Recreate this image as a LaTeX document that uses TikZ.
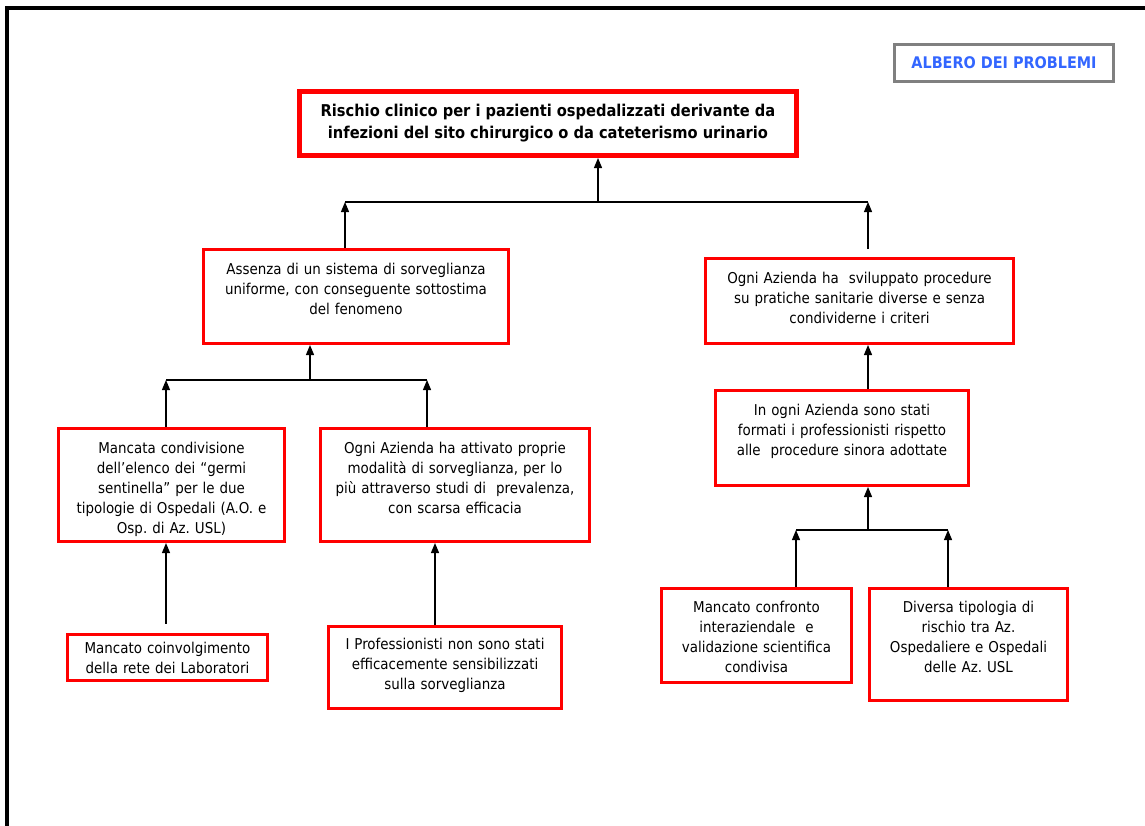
\documentclass[tikz,border=0pt]{standalone}
\usepackage{fontspec}
\setmainfont{DejaVu Sans Condensed}
\usetikzlibrary{arrows.meta}

\definecolor{boxred}{RGB}{255,0,0}
\definecolor{tagblue}{RGB}{51,102,255}
\definecolor{taggray}{RGB}{128,128,128}

\tikzset{
  probbox/.style={draw=boxred, line width=2.25pt, fill=white, align=center,
    inner xsep=0pt, inner ysep=10.8pt, text height=8pt, anchor=north west,
    font=\fontsize{11.2}{15}\selectfont},
  mainbox/.style={draw=boxred, line width=3.75pt, fill=white, align=center,
    anchor=north west, font=\bfseries\fontsize{12.2}{16.5}\selectfont},
  tagbox/.style={draw=taggray, line width=2.25pt, fill=white, text=tagblue,
    anchor=north west, font=\bfseries\fontsize{12}{14}\selectfont},
  link/.style={black, line width=0.9pt},
}

\begin{document}
\begin{tikzpicture}[x=0.75pt, y=-0.75pt, >={Triangle[length=7.5pt,width=6pt]}]
  \useasboundingbox (0,0) rectangle (1145,825);
  \clip (0,0) rectangle (1145,825);

  % Page frame
  \draw[line width=3pt] (7,840) -- (7,8) -- (1160,8);

  % Tag
  \node[tagbox, minimum width=164.25pt, minimum height=27.75pt] (tag) at (893,43) {ALBERO DEI PROBLEMI};

  % Main problem
  \node[mainbox, minimum width=372.75pt, minimum height=48pt] (rischio) at (297,89)
    {Rischio clinico per i pazienti ospedalizzati derivante da\\infezioni del sito chirurgico o da cateterismo urinario};

  % Level 1
  \node[probbox, text width=228.75pt, text depth=40.9pt] (assenza) at (202,248)
    {Assenza di un sistema di sorveglianza\\uniforme, con conseguente sottostima\\del fenomeno};
  \node[probbox, text width=231pt, text depth=34.15pt] (sviluppo) at (704,257)
    {Ogni Azienda ha\ \ sviluppato procedure\\su pratiche sanitarie diverse e senza\\condividerne i criteri};

  % Level 2
  \node[probbox, text width=169.5pt, text depth=55.15pt] (germi) at (57,427)
    {Mancata condivisione\\dell’elenco dei “germi\\sentinella” per le due\\tipologie di Ospedali (A.O. e\\Osp.\ di Az.\ USL)};
  \node[probbox, text width=201.75pt, text depth=55.15pt] (attivato) at (319,427)
    {Ogni Azienda ha attivato proprie\\modalità di sorveglianza, per lo\\più attraverso studi di\ \ prevalenza,\\con scarsa efficacia};
  \node[probbox, text width=189.75pt, text depth=41.65pt] (formati) at (714,389)
    {In ogni Azienda sono stati\\formati i professionisti rispetto\\alle\ \ procedure sinora adottate};

  % Level 3
  \node[probbox, text width=150pt, text depth=14.65pt, inner ysep=6pt] (laboratori) at (66,633)
    {Mancato coinvolgimento\\della rete dei Laboratori};
  \node[probbox, text width=174.75pt, text depth=35.15pt, inner ysep=9.3pt] (sensib) at (327,625)
    {I Professionisti non sono stati\\efficacemente sensibilizzati\\sulla sorveglianza};
  \node[probbox, text width=142.5pt, text depth=42.4pt, inner ysep=10.1pt] (confronto) at (660,587)
    {Mancato confronto\\interaziendale\ \ e\\validazione scientifica\\condivisa};
  \node[probbox, text width=148.5pt, text depth=55.9pt, inner ysep=10.1pt] (diversa) at (868,587)
    {Diversa tipologia di\\rischio tra Az.\\Ospedaliere e Ospedali\\delle Az.\ USL};

  % Junctions
  \coordinate (top) at (598,202);
  \coordinate (topL) at (345,202);
  \coordinate (topR) at (868,202);
  \coordinate (midA) at (310,380);
  \coordinate (midAL) at (166,380);
  \coordinate (midAR) at (427,380);
  \coordinate (botR) at (868,530);
  \coordinate (botRL) at (796,530);
  \coordinate (botRR) at (948,530);
  \coordinate (profX) at (435,0);

  % Connectors to the main problem
  \draw[link] (topL) -- (topR);
  \draw[link,->] (top) -- (top |- rischio.south);
  \draw[link,->] (topL |- assenza.north) -- (topL);
  \draw[link,->] ([yshift=6pt]topR |- sviluppo.north) -- (topR);

  % Left branch
  \draw[link] (midAL) -- (midAR);
  \draw[link,->] (midA) -- (midA |- assenza.south);
  \draw[link,->] (midAL |- germi.north) -- (midAL);
  \draw[link,->] (midAR |- attivato.north) -- (midAR);
  \draw[link,->] ([yshift=7pt]midAL |- laboratori.north) -- (midAL |- germi.south);
  \draw[link,->] (profX |- sensib.north) -- (profX |- attivato.south);

  % Right branch
  \draw[link,->] (botR |- formati.north) -- (botR |- sviluppo.south);
  \draw[link] (botRL) -- (botRR);
  \draw[link,->] (botR) -- (botR |- formati.south);
  \draw[link,->] (botRL |- confronto.north) -- (botRL);
  \draw[link,->] (botRR |- diversa.north) -- (botRR);
\end{tikzpicture}
\end{document}
